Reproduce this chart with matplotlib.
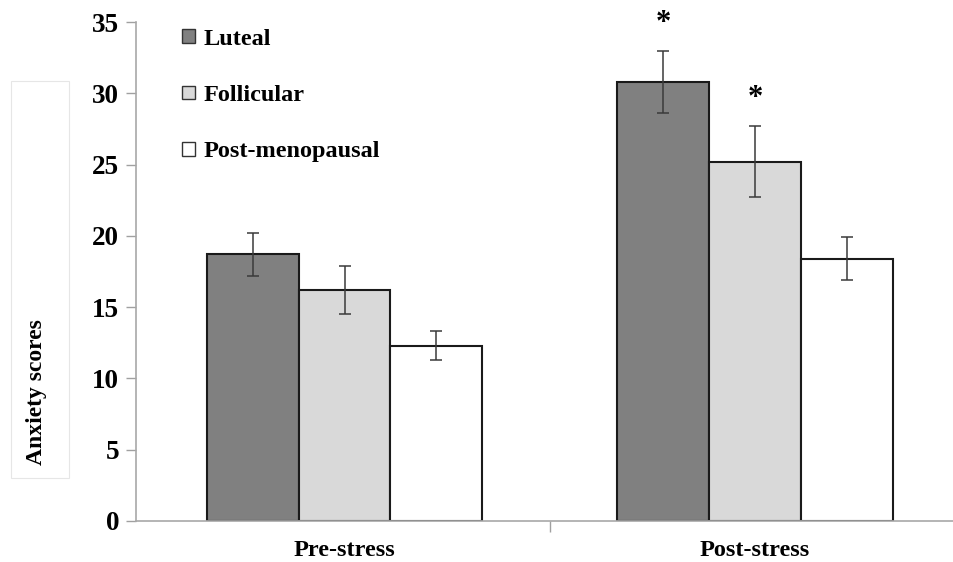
import matplotlib
matplotlib.use('Agg')
import matplotlib.pyplot as plt
import numpy as np
from matplotlib.patches import Rectangle

# Mean anxiety scores and standard errors per phase group
conditions = ["Pre-stress", "Post-stress"]
groups = ["Luteal", "Follicular", "Post-menopausal"]
means = {
    "Luteal": [18.7, 30.8],
    "Follicular": [16.2, 25.2],
    "Post-menopausal": [12.3, 18.4],
}
errors = {
    "Luteal": [1.5, 2.2],
    "Follicular": [1.7, 2.5],
    "Post-menopausal": [1.0, 1.5],
}
colors = {"Luteal": "#808080", "Follicular": "#d9d9d9", "Post-menopausal": "#ffffff"}
# groups marked significant in the post-stress condition
significant = {"Luteal": [False, True], "Follicular": [False, True], "Post-menopausal": [False, False]}

plt.rcParams['font.family'] = ['Liberation Serif', 'DejaVu Serif']
plt.rcParams['font.weight'] = 'bold'

fig = plt.figure(figsize=(9.54, 5.62), dpi=100)
ax = fig.add_axes([136 / 954, 1 - 521 / 562, (954 - 136) / 954, (521 - 22) / 562])

x = np.arange(len(conditions))
width = 0.224
for i, g in enumerate(groups):
    pos = x + (i - 1) * width
    ax.bar(pos, means[g], width, color=colors[g], edgecolor="#1a1a1a",
           linewidth=1.5, label=g, zorder=2)
    ax.errorbar(pos, means[g], yerr=errors[g], fmt="none", ecolor="#3a3a3a",
                elinewidth=1.1, capsize=4, capthick=1.1, zorder=3)
    for j, sig in enumerate(significant[g]):
        if sig:
            ax.text(pos[j], means[g][j] + errors[g][j] + 0.9, "*", ha="center",
                    va="bottom", fontsize=22, fontweight="bold")

ax.set_xlim(-0.508, 1.485)
ax.set_ylim(0, 35)
ax.set_yticks(range(0, 36, 5))
ax.set_xticks(x)
ax.set_xticklabels(conditions)
ax.set_xticks([0.5], minor=True)
ax.tick_params(axis="x", which="major", length=0, pad=14, labelsize=17.5)
ax.tick_params(axis="x", which="minor", length=8, color="#a0a0a0", width=1)
ax.tick_params(axis="y", length=7, color="#a0a0a0", width=1, pad=5, labelsize=19.5)
for side in ("top", "right"):
    ax.spines[side].set_visible(False)
for side in ("left", "bottom"):
    ax.spines[side].set_color("#a8a8a8")
    ax.spines[side].set_linewidth(1.2)

leg = ax.legend(loc="upper left", bbox_to_anchor=(0.03, 1.03), frameon=False,
                handlelength=0.5, handleheight=0.5, handletextpad=0.35,
                labelspacing=1.45, fontsize=17.5)
for h in leg.legend_handles:
    h.set_linewidth(1.0)
    h.set_edgecolor("#333333")

# framed y-axis label
fig.patches.append(Rectangle((11 / 954, 1 - 478 / 562), 58 / 954, 397 / 562,
                             transform=fig.transFigure, fill=False,
                             edgecolor="#e6e6e6", linewidth=0.8))
fig.text(37 / 954, 1 - 392 / 562, "Anxiety scores", rotation=90, ha="center",
         va="center", fontsize=17, fontweight="bold")

fig.savefig("out.png", dpi=100)
